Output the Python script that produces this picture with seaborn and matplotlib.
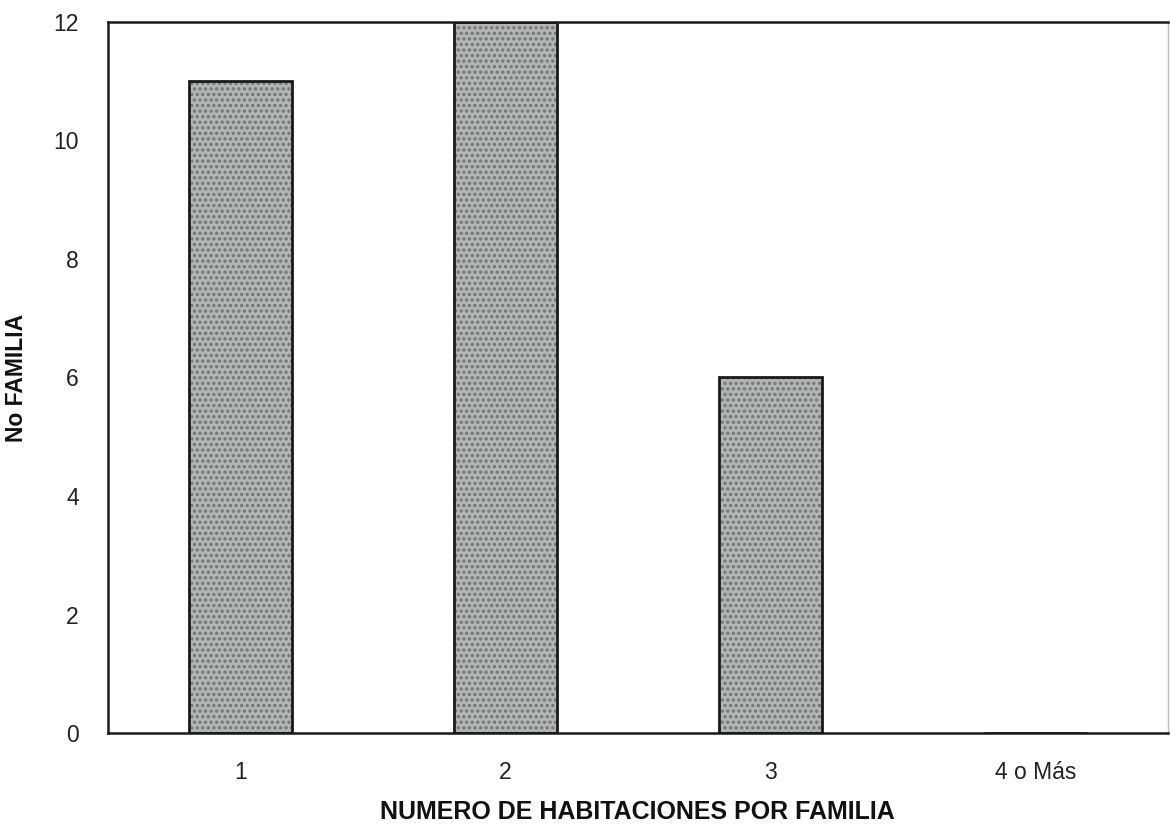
import numpy as np
import pandas as pd
import matplotlib
matplotlib.use("Agg")
import matplotlib.pyplot as plt
import seaborn as sns

habitaciones = ["1", "2", "3", "4 o Más"]
familias = [11, 12, 6, 0]

df = pd.DataFrame({"hab": habitaciones, "fam": familias})

sns.set_style("white")
plt.rcParams['font.family'] = ['Liberation Sans', 'DejaVu Sans']
plt.rcParams['hatch.linewidth'] = 1.6

fig = plt.figure(figsize=(11.7, 8.36), dpi=100)
ax = fig.add_axes([0.0923, 0.1232, 0.9057, 0.8505])

sns.barplot(data=df, x="hab", y="fam", order=habitaciones, color="#b2b6b6",
            saturation=1, width=0.39, edgecolor="#1a1a1a", linewidth=2, ax=ax)
# stipple look
for p in ax.patches:
    p.set_hatch("...")
    p.set_zorder(2)
    p._hatch_color = matplotlib.colors.to_rgba("#707474")

ax.set_ylim(0, 12)
ax.set_yticks(np.arange(0, 13, 2))
ax.set_xlim(-0.5, 3.5)
for s in ax.spines.values():
    s.set_color("#1a1a1a")
    s.set_linewidth(1.8)
ax.spines["right"].set_linewidth(1.0)
ax.spines["right"].set_color("#bbbbbb")
ax.tick_params(axis="both", length=0, labelsize=16.5, colors="#222222")
ax.tick_params(axis="y", pad=21)
ax.tick_params(axis="x", pad=20)
ax.set_xlabel("NUMERO DE HABITACIONES POR FAMILIA", fontsize=18, fontweight="bold",
              labelpad=12, color="#111111")
ax.set_ylabel("No FAMILIA", fontsize=16.5, fontweight="bold", labelpad=18, color="#111111")

fig.savefig("out.png", dpi=100, facecolor="white")
